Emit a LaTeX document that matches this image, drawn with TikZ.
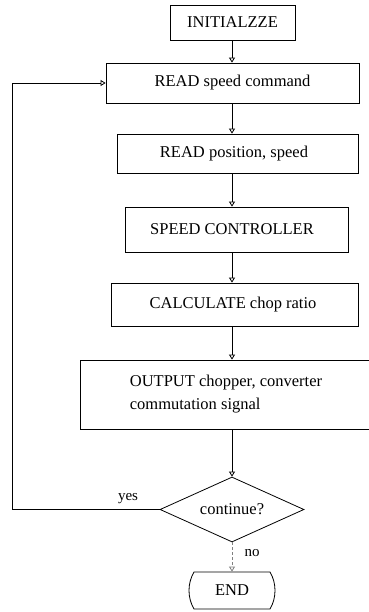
\documentclass[tikz,border=0pt]{standalone}
\usepackage{fontspec}
\setmainfont{Liberation Serif}
\usetikzlibrary{arrows.meta,shapes.geometric,shapes.misc}
\begin{document}
\begin{tikzpicture}[x=1pt,y=-1pt,
  font=\fontsize{16.5}{23}\selectfont,
  box/.style={draw,line width=0.8pt,inner sep=0pt,rectangle},
  decision/.style={draw,line width=0.8pt,diamond,inner sep=0pt,aspect=2.2},
  terminal/.style={draw,line width=0.8pt,rounded rectangle,rounded rectangle arc length=60,inner sep=0pt},
  arr/.style={line width=0.8pt,-{Triangle[open,length=5pt,width=6pt]}},
  lbl/.style={inner sep=0pt,font=\fontsize{15}{18}\selectfont}]
\useasboundingbox (0,0) rectangle (368,612);

% process boxes down the main column
\node[box,minimum width=125pt,minimum height=35pt] (init) at (232.5,22.5) {INITIALZZE};
\node[box,minimum width=253pt,minimum height=40pt] (readcmd) at (232.5,83) {READ speed command};
\node[box,minimum width=241pt,minimum height=39pt] (readpos) at (237.5,153.5) {\hspace*{-7pt}READ position, speed};
\node[box,minimum width=223pt,minimum height=45pt] (ctrl) at (236.5,229.5) {\hspace*{-9pt}SPEED CONTROLLER};
\node[box,minimum width=247pt,minimum height=43pt] (calc) at (234.5,304.5) {\hspace*{-3pt}CALCULATE chop ratio};
\node[box,minimum width=292pt,minimum height=69pt,align=left] (out) at (226,394.5)
  {OUTPUT chopper, converter\\commutation signal};
\node[decision,minimum width=144pt,minimum height=65pt] (cont) at (232,509.5) {continue?};
\node[terminal,minimum width=86pt,minimum height=37pt] (fin) at (232,590.5) {END};

% vertical spine of the flow
\coordinate (spine) at (232,0);
\coordinate (loopL) at (12,0);

\draw[arr] (init.south -| spine) -- (readcmd.north -| spine);
\draw[arr] (readcmd.south -| spine) -- (readpos.north -| spine);
\draw[arr] (readpos.south -| spine) -- (ctrl.north -| spine);
\draw[arr] (ctrl.south -| spine) -- (calc.north -| spine);
\draw[arr] (calc.south -| spine) -- (out.north -| spine);
\draw[arr] (out.south -| spine) -- (cont.north);
\draw[arr,dashed,gray,dash pattern=on 3pt off 2pt] (cont.south) -- (fin.north);

% loop back on "yes"
\draw[arr] (cont.west) -- (cont.west -| loopL) -- (readcmd.west -| loopL) -- (readcmd.west);

\node[lbl] (yes) at (128,499) {yes};
\node[lbl] (no) at (252,553) {no};
\end{tikzpicture}
\end{document}
